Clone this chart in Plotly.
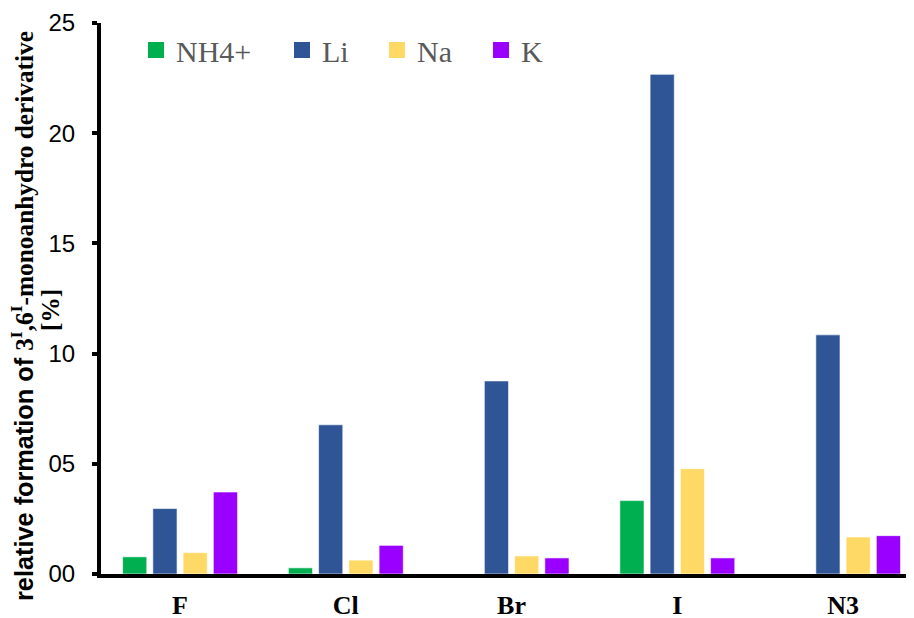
import plotly.graph_objects as go

categories = ["F", "Cl", "Br", "I", "N3"]
series_names = ["NH4+", "Li", "Na", "K"]
nh4 = [0.78, 0.28, 0.0, 3.33, 0.0]
li = [2.97, 6.77, 8.76, 22.67, 10.85]
na = [0.97, 0.63, 0.82, 4.78, 1.68]
k = [3.72, 1.30, 0.73, 0.73, 1.74]
y_tick_vals = [0, 5, 10, 15, 20, 25]
y_tick_text = ["00", "05", "10", "15", "20", "25"]

colors = ["#00B050", "#2F5597", "#FFD966", "#9900FF"]
legend_widths = [101, 50, 59, 40]

fig = go.Figure()
for name, vals, col in zip(series_names, [nh4, li, na, k], colors):
    fig.add_trace(go.Bar(
        x=list(range(len(categories))), y=vals, name=name,
        marker=dict(color=col, line=dict(color="rgba(255,255,255,0.6)", width=1)),
        showlegend=False, legendgroup=name,
    ))
# legend entries with larger square swatches
for name, col, lw in zip(series_names, colors, legend_widths):
    fig.add_trace(go.Scatter(
        x=[None], y=[None], mode="markers", name=name, legendgroup=name,
        marker=dict(symbol="square", size=16, color=col),
        legendwidth=lw, showlegend=True,
    ))

fig.update_layout(
    width=906, height=610,
    margin=dict(l=93, r=0, t=15, b=44, autoexpand=False),
    paper_bgcolor="white", plot_bgcolor="white",
    barmode="group", bargap=0.27, bargroupgap=0.2,
    showlegend=True,
    legend=dict(
        orientation="h", xref="paper", yref="paper",
        x=35 / 813, y=(566 - 42) / 551, xanchor="left", yanchor="middle",
        font=dict(family="Liberation Serif", size=30, color="#595959"),
        bgcolor="rgba(0,0,0,0)", traceorder="normal", itemsizing="trace",
    ),
    xaxis=dict(
        range=[-0.477, 4.428],
        tickvals=list(range(len(categories))), ticktext=categories,
        showline=True, linecolor="black", linewidth=4,
        ticks="", showgrid=False, zeroline=False,
        tickfont=dict(family="Liberation Serif", size=26, color="black", weight="bold"),
        ticklabelstandoff=5, automargin=False,
    ),
    yaxis=dict(
        range=[0, 25], tickvals=y_tick_vals, ticktext=y_tick_text,
        showline=True, linecolor="black", linewidth=4,
        ticks="outside", ticklen=5, tickwidth=4, tickcolor="black",
        showgrid=False, zeroline=False,
        tickfont=dict(family="Liberation Sans", size=24, color="black"),
        ticklabelstandoff=12, automargin=False,
    ),
)

fig.add_annotation(
    xref="paper", yref="paper", x=0, y=(566 - 308) / 551, xshift=-79,
    text="<span style='font-family:Liberation Sans'>relative formation of </span>3<sup>I</sup>,6<sup>I</sup>-monoanhydro derivative",
    textangle=-90, showarrow=False, xanchor="center", yanchor="middle",
    font=dict(family="Liberation Serif", size=25.3, color="black", weight="bold"),
)
fig.add_annotation(
    xref="paper", yref="paper", x=0, y=(566 - 302) / 551, xshift=-51,
    text="[%]",
    textangle=-90, showarrow=False, xanchor="center", yanchor="middle",
    font=dict(family="Liberation Serif", size=25.3, color="black", weight="bold"),
)

fig.write_html("out.html")
